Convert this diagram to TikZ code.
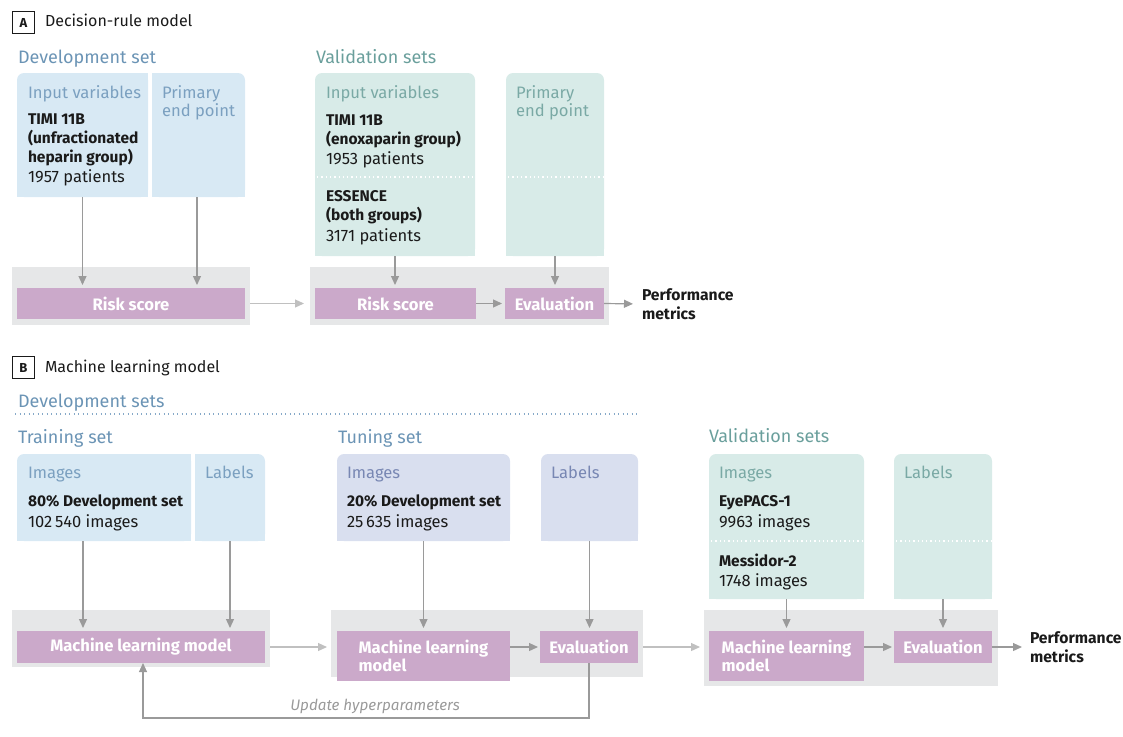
\documentclass[tikz,border=0pt]{standalone}
\usepackage{fontspec}
\setmainfont{Fira Sans}
\usetikzlibrary{arrows.meta}
\definecolor{txt}{HTML}{1A1A1A}
\definecolor{ttlblue}{HTML}{6B94B5}
\definecolor{dotblue}{HTML}{86A9C8}
\definecolor{ttlteal}{HTML}{6A9F9C}
\definecolor{hdblue}{HTML}{7BA0C0}
\definecolor{hdlav}{HTML}{7887B3}
\definecolor{hdteal}{HTML}{7AA9A5}
\definecolor{bxblue}{HTML}{D8E9F4}
\definecolor{bxlav}{HTML}{D9DFEF}
\definecolor{bxteal}{HTML}{D8EBE8}
\definecolor{purp}{HTML}{CBA9CA}
\definecolor{bandc}{HTML}{E6E7E8}
\definecolor{arrdk}{HTML}{9A9A9A}
\definecolor{arrlt}{HTML}{C0C0C0}
\definecolor{upd}{HTML}{9A9A9A}
\tikzset{
  every node/.style={inner sep=0pt, outer sep=0pt},
  ttl/.style={anchor=base west, font=\fontsize{18}{20}\selectfont},
  hdr/.style={anchor=base west, font=\fontsize{16.6}{18}\selectfont},
  bodyb/.style={anchor=base west, text=txt, font=\bfseries\fontsize{15.5}{18}\selectfont},
  bodyr/.style={anchor=base west, text=txt, font=\fontsize{16.5}{18}\selectfont},
  area/.style={anchor=north west, draw=none},
  bandbox/.style={anchor=north west, fill=bandc},
  pbox/.style={anchor=north west, fill=purp, text=white, align=left,
    font=\bfseries\fontsize{16.6}{18}\selectfont},
  lbl/.style={draw=txt, line width=0.9pt, fill=white, minimum width=22pt, minimum height=22pt,
    font=\bfseries\fontsize{13}{15}\selectfont, text=txt},
  ptitle/.style={anchor=base west, text=txt, font=\fontsize{16}{18}\selectfont},
  perf/.style={anchor=west, align=left, text=txt, font=\bfseries\fontsize{15.7}{18.5}\selectfont},
  darr/.style={draw=arrdk, line width=1.2pt, -{Triangle[length=9pt,width=8pt]}},
  larr/.style={draw=arrlt, line width=1.2pt, -{Triangle[length=9pt,width=8pt]}},
  wdot/.style={draw=white, line width=1.3pt, dash pattern=on 1.3pt off 3pt},
  bdot/.style={draw=dotblue, line width=1.2pt, dash pattern=on 1.2pt off 3.3pt},
}
\newcommand\rbox[4]{% name, color, round left (1/0), round right (1/0)
  \fill[#2, rounded corners=7pt] (#1.north west) rectangle (#1.south east);
  \fill[#2] ([yshift=-9pt]#1.north west) rectangle (#1.south east);
  \ifnum#3=0 \fill[#2] (#1.north west) rectangle ([xshift=9pt]#1.south west);\fi
  \ifnum#4=0 \fill[#2] ([xshift=-9pt]#1.north east) rectangle (#1.south east);\fi
}
\begin{document}
\begin{tikzpicture}[x=1pt,y=-1pt]
\useasboundingbox (0,0) rectangle (1123,736);

% ================= Panel A =================
\node[lbl] (labA) at (23.5,22.5) {A};
\node[ptitle] (titA) at (45,27) {Decision-rule model};
\node[ttl, text=ttlblue] (devA) at (18,63) {Development set};
\node[ttl, text=ttlteal] (valA) at (316,63) {Validation sets};

% areas
\node[area, minimum width=131pt, minimum height=124pt] (aIn) at (17,73) {};
\node[area, minimum width=93pt, minimum height=124pt] (aEp) at (152,73) {};
\node[area, minimum width=160pt, minimum height=183pt] (vIn) at (315,73) {};
\node[area, minimum width=98pt, minimum height=183pt] (vEp) at (506,73) {};
\rbox{aIn}{bxblue}{1}{0}
\rbox{aEp}{bxblue}{0}{1}
\rbox{vIn}{bxteal}{1}{1}
\rbox{vEp}{bxteal}{1}{1}
\draw[wdot] (317,177) -- (475,177);
\draw[wdot] (508,177) -- (604,177);

% bands
\node[bandbox, minimum width=238pt, minimum height=58pt] (bA1) at (12,267) {};
\node[bandbox, minimum width=299pt, minimum height=58pt] (bA2) at (310,267) {};

% texts
\node[hdr, text=hdblue] (t1) at (28,98) {Input variables};
\node[bodyb] (t2) at (28,124) {TIMI 11B};
\node[bodyb] (t3) at (28,143) {(unfractionated};
\node[bodyb] (t4) at (28,162.5) {heparin group)};
\node[bodyr] (t5) at (28,182) {1957 patients};
\node[hdr, text=hdblue] (t6) at (162,98) {Primary};
\node[hdr, text=hdblue] (t7) at (162,116) {end point};

\node[hdr, text=hdteal] (t8) at (326,98) {Input variables};
\node[bodyb] (t9) at (326,125) {TIMI 11B};
\node[bodyb] (t10) at (326,144) {(enoxaparin group)};
\node[bodyr] (t11) at (326,164) {1953 patients};
\node[bodyb] (t12) at (326,201) {ESSENCE};
\node[bodyb] (t13) at (326,220) {(both groups)};
\node[bodyr] (t14) at (326,241) {3171 patients};
\node[hdr, text=hdteal] (t15) at (516,98) {Primary};
\node[hdr, text=hdteal] (t16) at (516,116) {end point};

% purple boxes
\node[pbox, minimum width=228pt, minimum height=31pt] (risk1) at (17,288) {Risk score};
\node[pbox, minimum width=161pt, minimum height=31pt] (risk2) at (315,288) {Risk score};
\node[pbox, minimum width=99pt, minimum height=31pt] (evA) at (505,288) {Evaluation};
\node[perf] (perfA) at (642,304) {Performance\\metrics};

% arrows A
\draw[darr, shorten >=3pt] (aIn.south) -- (aIn.south |- risk1.north);
\draw[darr, shorten >=3pt] ([xshift=-1.5pt]aEp.south) -- ([xshift=-1.5pt]aEp.south |- risk1.north);
\draw[darr, shorten >=3pt] (vIn.south) -- (vIn.south |- risk2.north);
\draw[darr, shorten >=3pt] (vEp.south) -- (vEp.south |- evA.north);
\draw[larr, shorten >=6pt] (bA1.east |- risk1.east) -- (bA2.west |- risk1.east);
\draw[darr, shorten >=3pt] (risk2.east) -- (evA.west);
\draw[darr, shorten >=9pt] (evA.east) -- (perfA.west);

% ================= Panel B =================
\node[lbl] (labB) at (23.5,367.5) {B};
\node[ptitle] (titB) at (45,372) {Machine learning model};
\node[ttl, text=ttlblue] (devB) at (18,407) {Development sets};
\draw[bdot] (15,414) -- (640,414);
\node[ttl, text=ttlblue] (trB) at (18,443) {Training set};
\node[ttl, text=ttlblue] (tuB) at (338,443) {Tuning set};
\node[ttl, text=ttlteal] (vaB) at (709,442) {Validation sets};

% areas
\node[area, minimum width=174pt, minimum height=87pt] (trImg) at (17,454) {};
\node[area, minimum width=70pt, minimum height=87pt] (trLab) at (195,454) {};
\node[area, minimum width=173pt, minimum height=87pt] (tuImg) at (337,454) {};
\node[area, minimum width=97pt, minimum height=87pt] (tuLab) at (541,454) {};
\node[area, minimum width=155pt, minimum height=145pt] (vaImg) at (709,454) {};
\node[area, minimum width=98pt, minimum height=145pt] (vaLab) at (894,454) {};
\rbox{trImg}{bxblue}{1}{0}
\rbox{trLab}{bxblue}{0}{1}
\rbox{tuImg}{bxlav}{1}{1}
\rbox{tuLab}{bxlav}{1}{1}
\rbox{vaImg}{bxteal}{1}{1}
\rbox{vaLab}{bxteal}{1}{1}
\draw[wdot] (711,541) -- (864,541);
\draw[wdot] (896,541) -- (992,541);

% bands
\node[bandbox, minimum width=258pt, minimum height=57pt] (bB1) at (12,610) {};
\node[bandbox, minimum width=312pt, minimum height=67pt] (bB2) at (331,610) {};
\node[bandbox, minimum width=294pt, minimum height=76pt] (bB3) at (704,610) {};

% texts
\node[hdr, text=hdblue] (s1) at (28,478) {Images};
\node[bodyb] (s2) at (28,506) {80\% Development set};
\node[bodyr] (s3) at (28,527) {102\,540 images};
\node[hdr, text=hdblue] (s4) at (205,478) {Labels};
\node[hdr, text=hdlav] (s5) at (347,478) {Images};
\node[bodyb] (s6) at (347,506) {20\% Development set};
\node[bodyr] (s7) at (347,527) {25\,635 images};
\node[hdr, text=hdlav] (s8) at (551,478) {Labels};
\node[hdr, text=hdteal] (s9) at (719,478) {Images};
\node[bodyb] (s10) at (719,506) {EyePACS-1};
\node[bodyr] (s11) at (719,527) {9963 images};
\node[bodyb] (s12) at (719,566) {Messidor-2};
\node[bodyr] (s13) at (719,586) {1748 images};
\node[hdr, text=hdteal] (s14) at (904,478) {Labels};

% purple boxes
\node[pbox, minimum width=248pt, minimum height=32pt] (ml1) at (17,631) {Machine learning model};
\node[pbox, minimum width=173pt, minimum height=50pt] (ml2) at (337,631) {Machine learning\\model};
\node[pbox, minimum width=98pt, minimum height=32pt] (ev2) at (540,631) {Evaluation};
\node[pbox, minimum width=155pt, minimum height=50pt] (ml3) at (709,631) {Machine learning\\model};
\node[pbox, minimum width=98pt, minimum height=32pt] (ev3) at (894,631) {Evaluation};
\node[perf] (perfB) at (1030,647) {Performance\\metrics};

% arrows B
\draw[darr, shorten >=3pt] ([xshift=66pt]trImg.south west) -- ([xshift=66pt]trImg.south west |- ml1.north);
\draw[darr, shorten >=3pt] (trLab.south) -- (trLab.south |- ml1.north);
\draw[darr, shorten >=3pt] (tuImg.south) -- (tuImg.south |- ml2.north);
\draw[darr, shorten >=3pt] (tuLab.south) -- (tuLab.south |- ev2.north);
\draw[darr, shorten >=3pt] (vaImg.south) -- (vaImg.south |- ml3.north);
\draw[darr, shorten >=3pt] (vaLab.south) -- (vaLab.south |- ev3.north);
\draw[larr, shorten >=4pt] (bB1.east |- ml1.east) -- (bB2.west |- ml1.east);
\draw[darr, shorten >=2pt] (ml2.east |- ev2.west) -- (ev2.west);
\draw[larr, shorten >=4pt] (bB2.east |- ev2.east) -- (bB3.west |- ev2.east);
\draw[darr, shorten >=2pt] (ml3.east |- ev3.west) -- (ev3.west);
\draw[darr, shorten >=8pt] (ev3.east) -- (perfB.west |- ev3.east);

% feedback loop
\coordinate (fb) at (143,718);
\draw[darr] (ev2.south) |- (fb) -- (fb |- ml1.south);
\node[text=upd, font=\itshape\fontsize{15.2}{18}\selectfont] (updl) at (375,706) {Update hyperparameters};
\end{tikzpicture}
\end{document}
